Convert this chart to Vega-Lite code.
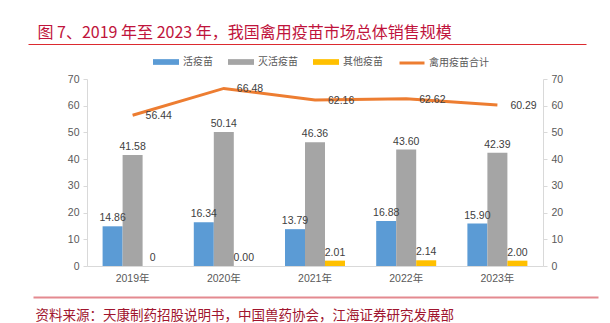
{
  "$schema": "https://vega.github.io/schema/vega-lite/v6.json",
  "width": 570,
  "height": 253,
  "autosize": {"type": "none"},
  "padding": {"left": 28, "top": 44, "right": 12, "bottom": 26},
  "background": "white",
  "config": {
    "view": {"stroke": null},
    "font": "Noto Sans CJK SC",
    "axis": {"labelFont": "Liberation Sans, Noto Sans CJK SC", "titleFont": "Noto Sans CJK SC"},
    "legend": {"labelFont": "Noto Sans CJK SC"}
  },
  "datasets": {
    "bars": [
      {"year": "2019年", "type": "活疫苗", "value": 14.86, "label": "14.86"},
      {"year": "2019年", "type": "灭活疫苗", "value": 41.58, "label": "41.58"},
      {"year": "2019年", "type": "其他疫苗", "value": 0, "label": "0"},
      {"year": "2020年", "type": "活疫苗", "value": 16.34, "label": "16.34"},
      {"year": "2020年", "type": "灭活疫苗", "value": 50.14, "label": "50.14"},
      {"year": "2020年", "type": "其他疫苗", "value": 0, "label": "0.00"},
      {"year": "2021年", "type": "活疫苗", "value": 13.79, "label": "13.79"},
      {"year": "2021年", "type": "灭活疫苗", "value": 46.36, "label": "46.36"},
      {"year": "2021年", "type": "其他疫苗", "value": 2.01, "label": "2.01"},
      {"year": "2022年", "type": "活疫苗", "value": 16.88, "label": "16.88"},
      {"year": "2022年", "type": "灭活疫苗", "value": 43.6, "label": "43.60"},
      {"year": "2022年", "type": "其他疫苗", "value": 2.14, "label": "2.14"},
      {"year": "2023年", "type": "活疫苗", "value": 15.9, "label": "15.90"},
      {"year": "2023年", "type": "灭活疫苗", "value": 42.39, "label": "42.39"},
      {"year": "2023年", "type": "其他疫苗", "value": 2.0, "label": "2.00"}
    ],
    "total": [
      {"year": "2019年", "value": 56.44, "label": "56.44"},
      {"year": "2020年", "value": 66.48, "label": "66.48"},
      {"year": "2021年", "value": 62.16, "label": "62.16"},
      {"year": "2022年", "value": 62.62, "label": "62.62"},
      {"year": "2023年", "value": 60.29, "label": "60.29"}
    ]
  },
  "layer": [
    {
      "layer": [
        {
          "data": {"name": "bars"},
          "mark": {"type": "bar"},
          "encoding": {
            "x": {
              "field": "year", "type": "nominal", "sort": null,
              "scale": {"range": [59, 515], "paddingInner": 0.342, "paddingOuter": 0.171},
              "axis": {"orient": "bottom", "offset": -31, "title": null, "labelAngle": 0, "domainColor": "#D9D9D9", "ticks": false, "labelColor": "#595959", "labelFontSize": 10.5, "labelPadding": 7, "grid": false}
            },
            "xOffset": {"field": "type", "type": "nominal", "sort": ["活疫苗", "灭活疫苗", "其他疫苗"], "scale": {"paddingInner": 0, "paddingOuter": 0}},
            "y": {
              "field": "value", "type": "quantitative",
              "scale": {"domain": [0, 70], "range": [222, 35], "nice": false, "zero": true},
              "axis": {"orient": "left", "offset": -59, "title": null, "values": [0, 10, 20, 30, 40, 50, 60, 70], "grid": false, "domainColor": "#D9D9D9", "tickColor": "#D9D9D9", "tickSize": 4, "labelPadding": 4, "labelColor": "#595959", "labelFontSize": 10.5}
            },
            "color": {
              "field": "type", "type": "nominal", "sort": ["活疫苗", "灭活疫苗", "其他疫苗"],
              "scale": {"domain": ["活疫苗", "灭活疫苗", "其他疫苗"], "range": ["#5B9BD5", "#A5A5A5", "#FFC000"]},
              "legend": {"orient": "none", "legendX": 125, "legendY": 5, "direction": "horizontal", "columns": 3, "title": null, "symbolType": "M-1,-0.22H1V0.22H-1Z", "symbolSize": 676, "symbolStrokeWidth": 0, "labelOffset": 4, "columnPadding": 15, "labelFontSize": 10, "labelColor": "#595959"}
            }
          }
        },
        {
          "data": {"name": "bars"},
          "mark": {"type": "text", "baseline": "bottom", "dy": -3, "font": "Liberation Sans", "fontSize": 10.5, "color": "#404040"},
          "encoding": {
            "x": {"field": "year", "type": "nominal", "sort": null},
            "xOffset": {"field": "type", "type": "nominal", "sort": ["活疫苗", "灭活疫苗", "其他疫苗"]},
            "y": {"field": "value", "type": "quantitative", "scale": {"domain": [0, 70], "range": [222, 35], "nice": false}, "axis": null},
            "text": {"field": "label"}
          }
        },
        {
          "data": {"name": "total"},
          "mark": {"type": "line", "strokeWidth": 3},
          "encoding": {
            "x": {"field": "year", "type": "nominal", "sort": null},
            "y": {
              "field": "value", "type": "quantitative",
              "scale": {"domain": [0, 70], "range": [222, 35], "nice": false},
              "axis": {"orient": "right", "offset": -55, "title": null, "values": [0, 10, 20, 30, 40, 50, 60, 70], "grid": false, "domainColor": "#D9D9D9", "tickColor": "#D9D9D9", "tickSize": 4, "labelPadding": 4, "labelColor": "#595959", "labelFontSize": 10.5}
            },
            "stroke": {
              "datum": "禽用疫苗合计", "type": "nominal",
              "scale": {"range": ["#ED7D31"]},
              "legend": {"orient": "none", "legendX": 370, "legendY": 5, "direction": "horizontal", "title": null, "symbolType": "stroke", "symbolSize": 625, "symbolStrokeWidth": 3, "labelOffset": 3, "labelFontSize": 10, "labelColor": "#595959"}
            }
          }
        },
        {
          "data": {"name": "total"},
          "mark": {"type": "text", "align": "left", "baseline": "middle", "dx": 13, "dy": 1, "font": "Liberation Sans", "fontSize": 10.5, "color": "#404040"},
          "encoding": {
            "x": {"field": "year", "type": "nominal", "sort": null},
            "y": {"field": "value", "type": "quantitative", "scale": {"domain": [0, 70], "range": [222, 35], "nice": false}, "axis": null},
            "text": {"field": "label"}
          }
        }
      ],
      "resolve": {"scale": {"y": "independent"}, "axis": {"y": "independent"}}
    },
    {
      "data": {"values": [{}]},
      "mark": {"type": "point", "opacity": 0},
      "encoding": {
        "x": {
          "datum": 0, "type": "quantitative",
          "scale": {"domain": [0, 1], "range": [0, 558]},
          "axis": {"orient": "top", "domainColor": "#DC2A2F", "domainWidth": 1, "ticks": false, "labels": false, "grid": false,
            "title": "图 7、2019 年至 2023 年，我国禽用疫苗市场总体销售规模",
            "titleX": 9, "titleY": -12, "titleAlign": "left", "titleAnchor": "start", "titleBaseline": "middle",
            "titleColor": "#C0143C", "titleFontSize": 16, "titleFontWeight": "normal"}
        }
      }
    },
    {
      "data": {"values": [{}]},
      "mark": {"type": "point", "opacity": 0},
      "encoding": {
        "x": {
          "datum": 0, "type": "quantitative",
          "scale": {"domain": [0, 1], "range": [5, 570]},
          "axis": {"orient": "bottom", "domainColor": "#E48A90", "domainWidth": 2, "ticks": false, "labels": false, "grid": false,
            "title": "资料来源：天康制药招股说明书，中国兽药协会，江海证券研究发展部",
            "titleX": 7, "titleY": 18, "titleAlign": "left", "titleAnchor": "start", "titleBaseline": "middle",
            "titleColor": "#A0152E", "titleFontSize": 13.5, "titleFontWeight": "normal"}
        }
      }
    }
  ],
  "resolve": {"scale": {"x": "independent"}, "axis": {"x": "independent"}}
}
